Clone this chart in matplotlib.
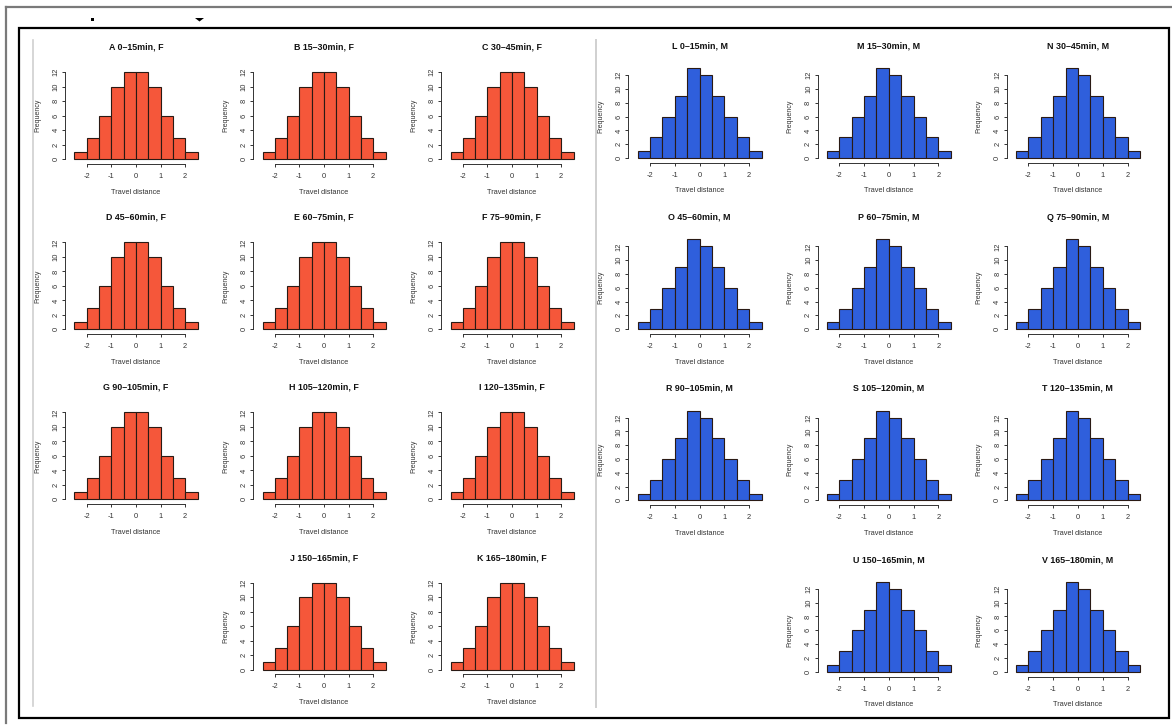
import numpy as np
import matplotlib
matplotlib.use("Agg")
import matplotlib.pyplot as plt
from matplotlib.lines import Line2D
from matplotlib.patches import Rectangle, Polygon

plt.rcParams['font.family'] = ['Liberation Sans', 'DejaVu Sans']

# ---------------- data ----------------
bin_edges = [-2.5, -2.0, -1.5, -1.0, -0.5, 0.0, 0.5, 1.0, 1.5, 2.0, 2.5]
female_counts = [1, 3, 6, 10, 12, 12, 10, 6, 3, 1]
male_counts = [1, 3, 6, 9, 13, 12, 9, 6, 3, 1]

female_titles = ["A 0\u201315min, F", "B 15\u201330min, F", "C 30\u201345min, F",
                 "D 45\u201360min, F", "E 60\u201375min, F", "F 75\u201390min, F",
                 "G 90\u2013105min, F", "H 105\u2013120min, F", "I 120\u2013135min, F",
                 "J 150\u2013165min, F", "K 165\u2013180min, F"]
male_titles = ["L 0\u201315min, M", "M 15\u201330min, M", "N 30\u201345min, M",
               "O 45\u201360min, M", "P 60\u201375min, M", "Q 75\u201390min, M",
               "R 90\u2013105min, M", "S 105\u2013120min, M", "T 120\u2013135min, M",
               "U 150\u2013165min, M", "V 165\u2013180min, M"]
grid_cells = [(0, 0), (0, 1), (0, 2), (1, 0), (1, 1), (1, 2),
              (2, 0), (2, 1), (2, 2), (3, 1), (3, 2)]
x_ticks = [-2, -1, 0, 1, 2]
y_ticks = [0, 2, 4, 6, 8, 10, 12]
x_label = "Travel distance"
y_label = "Frequency"

RED = "#F5573A"
BLUE = "#2F5FDC"

W, H = 1172, 727
fig = plt.figure(figsize=(W / 100, H / 100), dpi=100)


def fx(x):
    return x / W


def fy(y):
    return 1 - y / H


# ------------- frame decorations -------------
fig.add_artist(Line2D([fx(6), fx(6)], [fy(7), fy(723)], color="#7a7a7a", lw=1.6))
fig.add_artist(Line2D([fx(6), fx(1171)], [fy(7), fy(7)], color="#7a7a7a", lw=1.6))
fig.add_artist(Rectangle((fx(18.5), fy(718)), fx(1169) - fx(18.5), fy(28.3) - fy(718),
                         fill=False, ec="black", lw=1.6))
fig.add_artist(Line2D([fx(33), fx(33)], [fy(40), fy(706)], color="#d0d0d0", lw=1.2))
fig.add_artist(Line2D([fx(596), fx(596)], [fy(40), fy(707)], color="#d0d0d0", lw=1.4))
# cut-off remnants of a heading above the frame
fig.add_artist(Rectangle((fx(90.5), fy(21)), fx(3), fy(18) - fy(21), color="black", lw=0))
fig.add_artist(Polygon([(fx(195), fy(18)), (fx(204), fy(18)), (fx(199.5), fy(21.5))],
                       closed=True, color="black", lw=0))


def draw_panel(center_x, base_y, px_per_unit_x, px_per_unit_y, ymax, counts, color, title):
    xlo, xhi = -2.7, 2.7
    pad = 0.04 * ymax
    ylo, yhi = -pad, ymax + pad
    left = center_x + xlo * px_per_unit_x
    width = (xhi - xlo) * px_per_unit_x
    bottom = base_y - ylo * px_per_unit_y
    height = (yhi - ylo) * px_per_unit_y
    ax = fig.add_axes([fx(left), fy(bottom), width / W, height / H])
    ax.set_facecolor("none")
    edges = np.array(bin_edges)
    ax.bar(edges[:-1], counts, width=np.diff(edges), align="edge",
           color=color, edgecolor="#2a1a14", linewidth=0.8)
    ax.set_xlim(xlo, xhi)
    ax.set_ylim(ylo, yhi)
    for s in ("top", "right"):
        ax.spines[s].set_visible(False)
    ax.spines["left"].set_bounds(0, 12)
    ax.spines["bottom"].set_bounds(-2, 2)
    ax.spines["left"].set_position(("outward", 3))
    ax.spines["bottom"].set_position(("outward", 1))
    for s in ("left", "bottom"):
        ax.spines[s].set_linewidth(0.7)
        ax.spines[s].set_color("#333333")
    ax.set_xticks(x_ticks)
    ax.set_xticklabels([str(t) for t in x_ticks])
    ax.set_yticks(y_ticks)
    ax.set_yticklabels([str(t) for t in y_ticks], rotation=90, va="center")
    ax.tick_params(axis="x", length=2.5, width=0.7, pad=4, labelsize=5.4,
                   colors="#333333")
    ax.tick_params(axis="y", length=2.5, width=0.7, pad=1.5, labelsize=5.4,
                   colors="#333333")
    # labels
    fig.text(fx(center_x), fy(base_y + 33), x_label, ha="center", va="center",
             fontsize=5.3, color="#333333")
    fig.text(fx(left - 32), fy(base_y - 6 * px_per_unit_y), y_label, ha="center",
             va="center", rotation=90, fontsize=5.0, color="#333333")
    fig.text(fx(center_x), fy(base_y - 112), title, ha="center", va="center",
             fontsize=6.4, fontweight="bold", color="#111111")
    return ax


red_centers = [136.0, 324.0, 512.0]
red_bases = [159.3, 329.4, 499.4, 669.5]
blue_centers = [699.5, 888.7, 1077.9]
blue_bases = [158.0, 329.2, 500.4, 671.6]

for (r, c), t in zip(grid_cells, female_titles):
    draw_panel(red_centers[c], red_bases[r], 24.6, 7.25, 12, female_counts, RED, t)

for (r, c), t in zip(grid_cells, male_titles):
    draw_panel(blue_centers[c], blue_bases[r], 24.8, 6.9, 13, male_counts, BLUE, t)

fig.savefig("out.png", dpi=100, facecolor="white")
